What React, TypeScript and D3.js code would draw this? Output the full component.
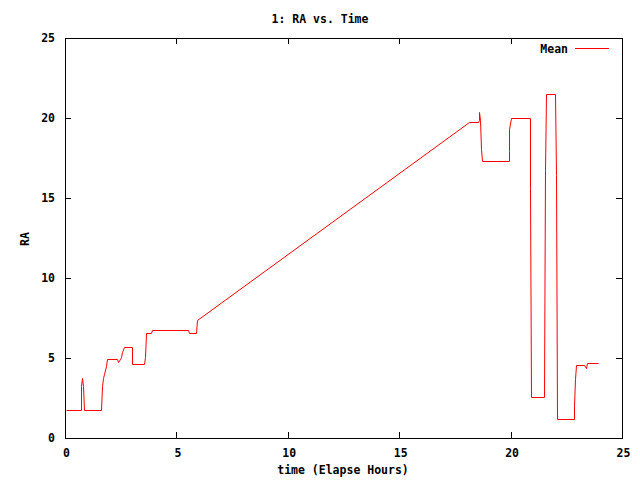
import React from "react";
import * as d3 from "d3";

const times = [
  0.05, 0.7, 0.72, 0.76, 0.8, 0.84, 1.63, 1.65, 1.72, 1.76, 1.86, 1.9, 2.34, 2.4, 2.45, 2.51, 2.58, 2.66,
  2.99, 3.0, 3.55, 3.58, 3.64, 3.87, 3.9, 5.52, 5.56, 5.9, 5.94, 18.14, 18.52, 18.56, 18.58, 18.61,
  18.65, 18.7, 19.91, 19.93, 19.95, 20.0, 20.85, 20.88, 20.93, 21.52, 21.56, 21.6, 22.01, 22.03, 22.1,
  22.84, 22.86, 22.91, 22.93, 23.31, 23.37, 23.45, 23.91,
];
const raValues = [
  1.73, 1.73, 3.26, 3.74, 3.26, 1.73, 1.73, 3.26, 3.75, 4.02, 4.5, 4.95, 4.95, 4.72, 4.95, 5.06, 5.35, 5.68,
  5.68, 4.64, 4.64, 5.06, 6.56, 6.56, 6.75, 6.75, 6.56, 6.56, 7.39, 19.72, 19.72, 19.9, 20.4, 19.9,
  18.05, 17.29, 17.29, 17.94, 19.3, 19.97, 19.97, 15.65, 2.55, 2.55, 16.75, 21.49, 21.49, 16.43, 1.17,
  1.17, 2.0, 3.7, 4.57, 4.57, 4.37, 4.68, 4.68,
];
const xTicks = [0, 5, 10, 15, 20, 25];
const yTicks = [0, 5, 10, 15, 20, 25];
const title = "1: RA vs. Time";
const xLabel = "time (Elapse Hours)";
const yLabel = "RA";
const seriesName = "Mean";

const W = 640, H = 480;
const left = 65, right = 622, top = 38, bottom = 438;
const font = "'DejaVu Sans Mono', monospace";

export default function App() {
  const x = d3.scaleLinear().domain([0, 25]).range([left, right]);
  const y = d3.scaleLinear().domain([0, 25]).range([bottom, top]);
  const pts: [number, number][] = times.map((t, i) => [t, raValues[i]]);
  const line = d3.line<[number, number]>().x(d => Math.round(x(d[0])) + 0.5).y(d => Math.round(y(d[1])) + 0.5);
  const tl = 6;
  const textStyle = { fontFamily: font, fontSize: 11.5, fontWeight: 700 as const, fill: "#000" };
  return (
    <div style={{ position: "fixed", left: 0, top: 0 }}>
      <svg width={W} height={H} style={{ display: "block", background: "#fff" }}>
        <rect x={0} y={0} width={W} height={H} fill="#fff" />
        <text x={320} y={23} textAnchor="middle" {...textStyle}>{title}</text>
        <g stroke="#000" strokeWidth={1} shapeRendering="crispEdges">
          {xTicks.map(t => {
            const px = Math.round(x(t)) + 0.5;
            return (
              <g key={"x" + t}>
                <line x1={px} x2={px} y1={bottom} y2={bottom - tl} />
                <line x1={px} x2={px} y1={top} y2={top + tl} />
              </g>
            );
          })}
          {yTicks.map(t => {
            const py = Math.round(y(t)) + 0.5;
            return (
              <g key={"y" + t}>
                <line x1={left} x2={left + tl} y1={py} y2={py} />
                <line x1={right} x2={right - tl} y1={py} y2={py} />
              </g>
            );
          })}
        </g>
        {xTicks.map(t => (
          <text key={"xl" + t} x={x(t) + 1.5} y={457} textAnchor="middle" {...textStyle}>{t}</text>
        ))}
        {yTicks.map(t => (
          <text key={"yl" + t} x={55} y={y(t) + 4} textAnchor="end" {...textStyle}>{t}</text>
        ))}
        <text x={343} y={474} textAnchor="middle" {...textStyle}>{xLabel}</text>
        <text transform="translate(29,239) rotate(-90)" textAnchor="middle" {...textStyle}>{yLabel}</text>
        <path d={line(pts) || ""} fill="none" stroke="#ff0000" strokeWidth={1} />
        <text x={568} y={53} textAnchor="end" {...textStyle}>{seriesName}</text>
        <line x1={575} x2={609} y1={48.5} y2={48.5} stroke="#ff0000" strokeWidth={1} shapeRendering="crispEdges" />
        <rect x={left + 0.5} y={top + 0.5} width={right - left} height={bottom - top} fill="none" stroke="#000" strokeWidth={1} shapeRendering="crispEdges" />
      </svg>
    </div>
  );
}
